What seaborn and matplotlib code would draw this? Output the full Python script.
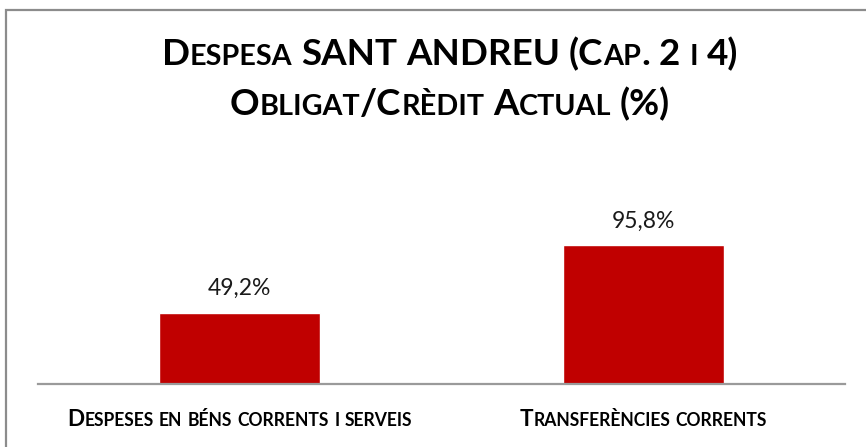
import matplotlib
matplotlib.use("Agg")
import matplotlib.pyplot as plt
import seaborn as sns
import pandas as pd
from matplotlib.offsetbox import TextArea, HPacker, AnnotationBbox
from matplotlib.patches import Rectangle

# Data
categories = ["Despeses en béns corrents i serveis", "Transferències corrents"]
values = [49.2, 95.8]
value_labels = ["49,2%", "95,8%"]
title_lines = ["Despesa SANT ANDREU (Cap. 2 i 4)", "Obligat/Crèdit Actual (%)"]

BAR_COLOR = "#C00000"
FONT = ["Lato", "DejaVu Sans"]

sns.set_theme(style="white")
plt.rcParams["font.family"] = FONT

W, H = 866, 447
fig = plt.figure(figsize=(W / 100, H / 100), dpi=100)
fig.patch.set_facecolor("white")
ax = fig.add_axes([38 / W, (H - 384) / H, (845 - 38) / W, (384 - 170) / H])

df = pd.DataFrame({"categoria": categories, "valor": values})
sns.barplot(data=df, x="categoria", y="valor", color=BAR_COLOR, width=0.4,
            saturation=1, ax=ax)
ax.set_xlim(-0.5, 1.5)
ax.set_ylim(0, 148)
ax.bar_label(ax.containers[0], labels=value_labels, padding=10,
             fontsize=16.5, color="#1a1a1a", family=FONT)

for side in ("top", "left", "right"):
    ax.spines[side].set_visible(False)
ax.spines["bottom"].set_color("#9a9a9a")
ax.spines["bottom"].set_linewidth(1.6)
ax.set_xticklabels([])
ax.set_yticks([])
ax.tick_params(length=0)
ax.set_xlabel("")
ax.set_ylabel("")


def small_caps(text, size, ratio=0.78, color="black"):
    """Build a small-caps line: lowercase letters become smaller capitals."""
    words = []
    for word in text.split(" "):
        runs, cur, cur_low = [], "", None
        for ch in word:
            low = ch.islower()
            if cur and low != cur_low:
                runs.append((cur, cur_low))
                cur = ""
            cur += ch
            cur_low = low
        if cur:
            runs.append((cur, cur_low))
        children = [
            TextArea(r.upper() if low else r,
                     textprops=dict(size=size * ratio if low else size,
                                    weight="bold", color=color, family=FONT))
            for r, low in runs
        ]
        words.append(HPacker(children=children, align="baseline", pad=0, sep=0))
    return HPacker(children=words, align="baseline", pad=0, sep=size * 0.24)


def place(box, xy, coords):
    ab = AnnotationBbox(box, xy, xycoords=coords, box_alignment=(0.5, 0.5),
                        frameon=False, pad=0, annotation_clip=False)
    fig.add_artist(ab)


# Title
place(small_caps(title_lines[0], 26.5), (450 / W, (H - 54) / H), "figure fraction")
place(small_caps(title_lines[1], 26.5), (450 / W, (H - 104) / H), "figure fraction")

# Category labels under the bars
for i, cat in enumerate(categories):
    ab = AnnotationBbox(small_caps(cat, 16.2), (i, (H - 419) / H),
                        xycoords=("data", "figure fraction"),
                        box_alignment=(0.5, 0.5), frameon=False, pad=0,
                        annotation_clip=False)
    ax.add_artist(ab)

# Outer frame
fig.patches.append(Rectangle((6 / W, -0.05), 1.0, (H - 10) / H + 0.05,
                             transform=fig.transFigure, fill=False,
                             edgecolor="#8c8c8c", linewidth=1.6))

fig.savefig("out.png", dpi=100)
